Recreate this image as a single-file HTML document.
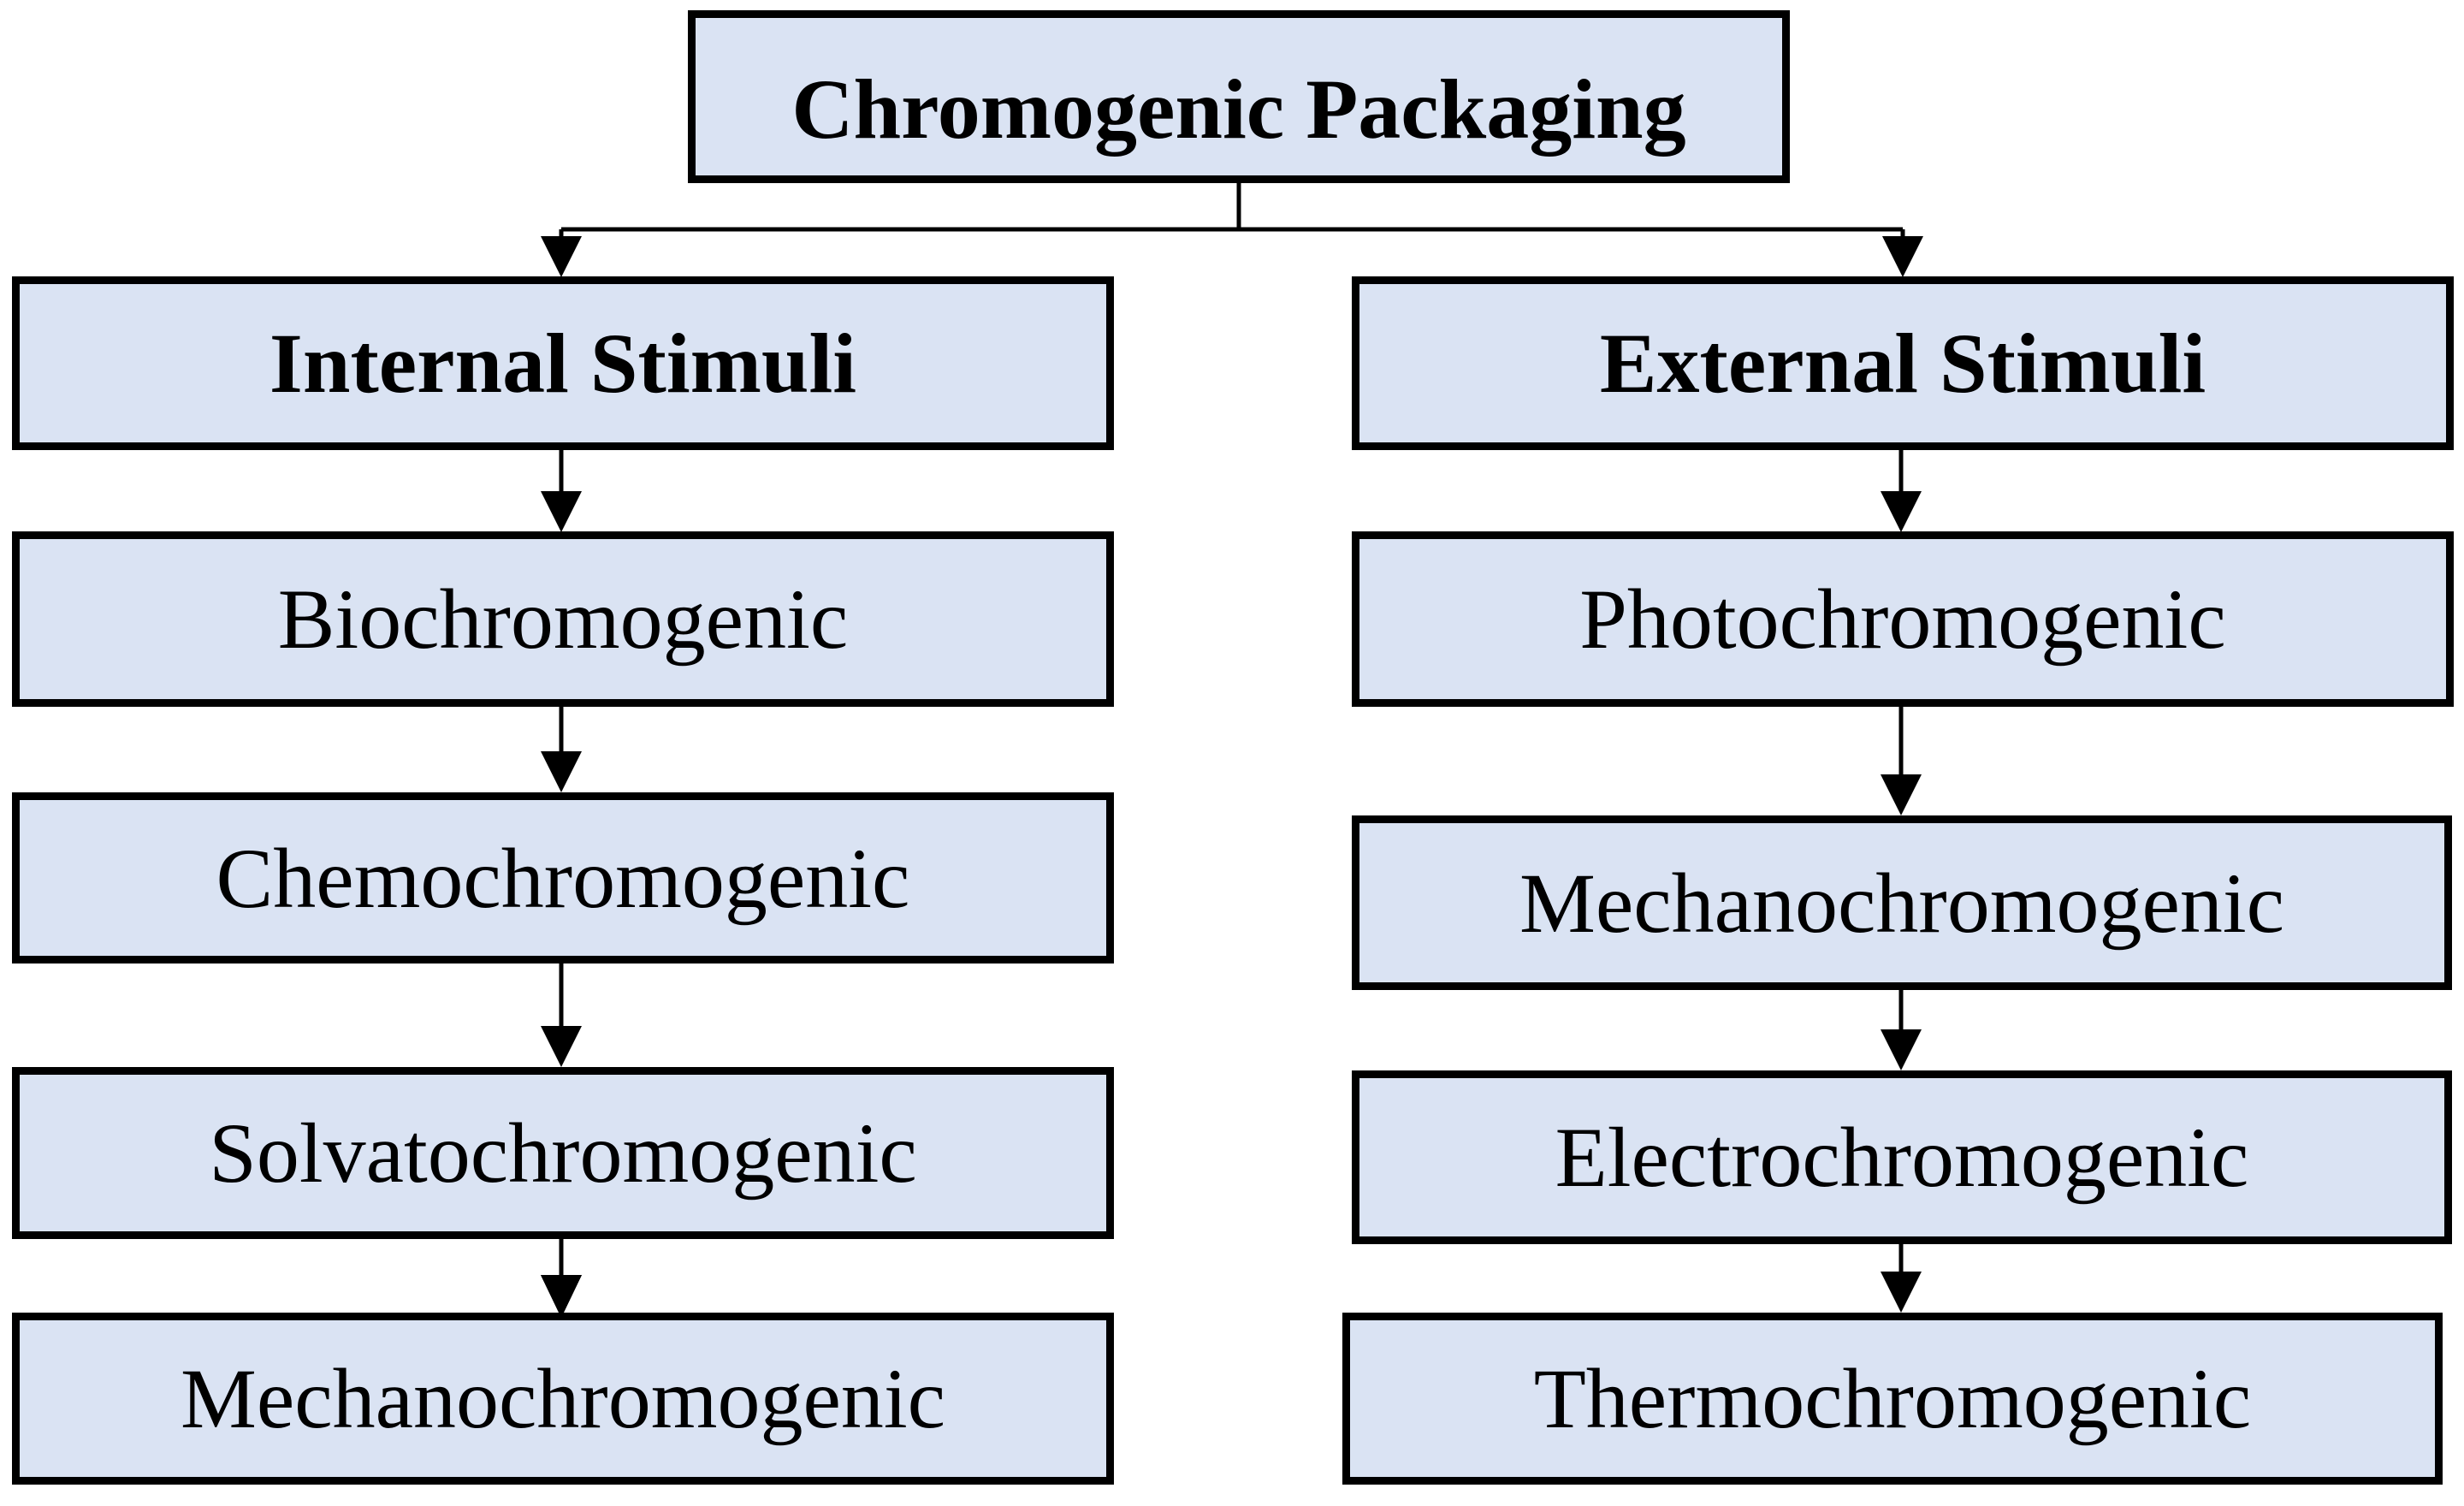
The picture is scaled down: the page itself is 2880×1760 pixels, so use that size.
<!DOCTYPE html>
<html><head><meta charset="utf-8"><style>
html,body{margin:0;padding:0;background:#fff;}
body{width:2880px;height:1760px;position:relative;overflow:hidden;}
.b{position:absolute;box-sizing:border-box;border:9px solid #000;background:#dae3f3;display:flex;align-items:center;justify-content:center;font-family:"Liberation Serif","Times New Roman",serif;font-size:100px;color:#000;white-space:nowrap;}
.bold{font-weight:bold;}
svg{position:absolute;left:0;top:0;}
</style></head><body>
<svg width="2880" height="1760">
<g stroke="#000" stroke-width="5" fill="none">
<line x1="1448" y1="210" x2="1448" y2="268"/>
<line x1="656" y1="268" x2="2224" y2="268"/>
<line x1="656" y1="268" x2="656" y2="290"/>
<line x1="2224" y1="268" x2="2224" y2="290"/>
<line x1="656" y1="522" x2="656" y2="580"/>
<line x1="656" y1="822" x2="656" y2="880"/>
<line x1="656" y1="1122" x2="656" y2="1200"/>
<line x1="656" y1="1444" x2="656" y2="1490"/>
<line x1="2222" y1="522" x2="2222" y2="580"/>
<line x1="2222" y1="822" x2="2222" y2="910"/>
<line x1="2222" y1="1153" x2="2222" y2="1205"/>
<line x1="2222" y1="1450" x2="2222" y2="1490"/>
</g>
<g fill="#000">
<polygon points="632,276 680,276 656,324"/>
<polygon points="2200,276 2248,276 2224,324"/>
<polygon points="632,574 680,574 656,622"/>
<polygon points="632,878 680,878 656,926"/>
<polygon points="632,1199 680,1199 656,1247"/>
<polygon points="632,1490 680,1490 656,1540"/>
<polygon points="2198,574 2246,574 2222,622"/>
<polygon points="2198,905 2246,905 2222,953"/>
<polygon points="2198,1203 2246,1203 2222,1251"/>
<polygon points="2198,1486 2246,1486 2222,1534"/>
</g>
</svg>
<div class="b bold" style="left:804px;top:12px;width:1288px;height:202px;padding-top:28px;">Chromogenic Packaging</div>
<div class="b bold" style="left:14px;top:323px;width:1288px;height:203px;">Internal Stimuli</div>
<div class="b bold" style="left:1580px;top:323px;width:1288px;height:203px;">External Stimuli</div>
<div class="b" style="left:14px;top:621px;width:1288px;height:205px;">Biochromogenic</div>
<div class="b" style="left:14px;top:926px;width:1288px;height:200px;">Chemochromogenic</div>
<div class="b" style="left:14px;top:1247px;width:1288px;height:201px;">Solvatochromogenic</div>
<div class="b" style="left:14px;top:1534px;width:1288px;height:201px;">Mechanochromogenic</div>
<div class="b" style="left:1580px;top:621px;width:1288px;height:205px;">Photochromogenic</div>
<div class="b" style="left:1580px;top:953px;width:1286px;height:204px;">Mechanochromogenic</div>
<div class="b" style="left:1580px;top:1251px;width:1286px;height:203px;">Electrochromogenic</div>
<div class="b" style="left:1569px;top:1534px;width:1286px;height:201px;">Thermochromogenic</div>
<svg width="2880" height="1760" style="pointer-events:none">
<polygon points="632,1490 680,1490 656,1540" fill="#000"/>
</svg>
</body></html>
